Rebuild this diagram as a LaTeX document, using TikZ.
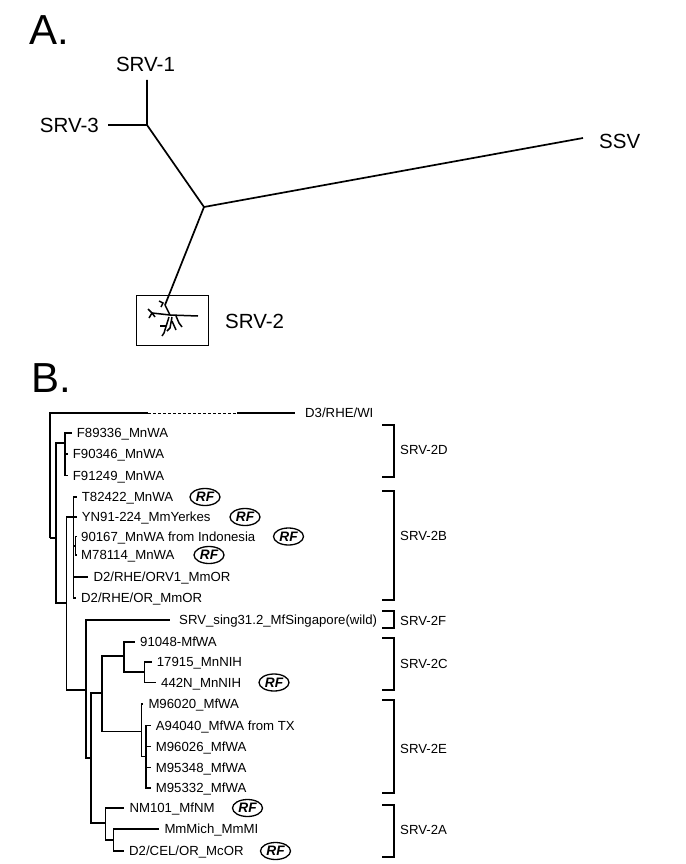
\documentclass[tikz,border=0pt]{standalone}
\usepackage{fontspec}
\setmainfont{Liberation Sans}
\usetikzlibrary{shapes.geometric}
\begin{document}
\begin{tikzpicture}[x=1pt,y=-1pt,
	branch/.style={line width=1.7pt},
	twig/.style={line width=1.5pt},
	leaf/.style={anchor=west,inner xsep=5pt,inner ysep=0pt,text height=9.45pt,text depth=0pt,font=\fontsize{13.2}{15}\selectfont},
	tip/.style={inner sep=0pt,text height=14.7pt,text depth=0pt,font=\fontsize{20.5}{24}\selectfont},
	rf/.style={draw,ellipse,line width=1.3pt,minimum width=30pt,minimum height=17pt,inner sep=0pt,text height=9.8pt,text depth=0pt,font=\fontsize{13.7}{15}\selectfont\bfseries\itshape},
	panel/.style={anchor=base west,inner sep=0pt,font=\fontsize{42}{48}\selectfont}]
\useasboundingbox (0,0) rectangle (685,864);
% A. unrooted tree
\node[panel] (labA) at (29,45) {A.};
\coordinate (t1) at (147,80);
\coordinate (t3) at (108,125);
\coordinate (j13) at (147,125);
\coordinate (cA) at (204,207);
\coordinate (tS) at (583,138);
\coordinate (t2) at (165,305);
\draw[branch] (t1) -- (j13) -- (cA) -- (tS);
\draw[branch] (t3) -- (j13);
\draw[branch] (cA) -- (t2);
\node[tip] (srv1) at (145.5,64.5) {SRV-1};
\node[tip,anchor=east] (srv3) at (99,125) {SRV-3};
\node[tip,anchor=west] (ssv) at (599,141.5) {SSV};
\node[tip,anchor=west] (srv2) at (225,321) {SRV-2};
\node[draw,line width=1.3pt,minimum width=72pt,minimum height=50pt,inner sep=0pt] (box) at (172.6,320.5) {};
\draw[twig] (t2) -- (170,315) -- (198,316);
\draw[twig] (159,301) -- (163,303) -- (161,307);
\draw[twig] (170,315) -- (152,313);
\draw[twig] (148,309) -- (152,313) -- (149,318);
\draw[twig] (152,313) -- (155,317);
\draw[twig] (169,317) -- (164,333) -- (162,336);
\draw[twig] (160,326) -- (166,326);
\draw[twig] (172,317) -- (170,328) -- (167,331);
\draw[twig] (172,321) -- (176,330);
\draw[twig] (176,316) -- (179,323) -- (182,327);
% B. rooted tree
\node[panel] (labB) at (31,392) {B.};
\foreach \n/\x/\y/\t in {d3/300/413/{D3/RHE/WI},f89/71.7/433/F89336\_MnWA,f90/67.7/454/F90346\_MnWA,
	f91/67.7/475.5/F91249\_MnWA,t82/76.7/497/T82422\_MnWA,yn91/76.7/517/YN91-224\_MmYerkes,
	i90/76/536.5/90167\_MnWA from Indonesia,m78/76/555/M78114\_MnWA,orv/88.3/577/{D2/RHE/ORV1\_MmOR},
	orm/76/598/{D2/RHE/OR\_MmOR},sing/174/620/SRV\_sing31.2\_MfSingapore(wild),w91/135/642/91048-MfWA,
	n17/151.7/662/17915\_MnNIH,n44/156/682.5/442N\_MnNIH,m960/143.3/704/M96020\_MfWA,
	a94/150.7/725.5/A94040\_MfWA from TX,m9602/150.7/746.5/M96026\_MfWA,m348/150.7/767.5/M95348\_MfWA,
	m332/150.7/788/M95332\_MfWA,nm/124.3/808/NM101\_MfNM,mich/159.3/829/MmMich\_MmMI,cel/124/851/{D2/CEL/OR\_McOR}}
	\node[leaf] (\n) at (\x,\y) {\t};
\coordinate (root) at (50,538);
\coordinate (inA) at (56,538);
\coordinate (ndD) at (65,443);
\coordinate (inB) at (66.5,603);
\coordinate (ndB) at (73.5,517);
\coordinate (pr) at (75.5,546);
\coordinate (inC) at (86,690);
\coordinate (inD) at (90.7,758);
\coordinate (inE) at (101.7,693);
\coordinate (inF) at (105.5,823);
\coordinate (ndC) at (124,656);
\coordinate (inG) at (144.5,672);
\coordinate (ndE) at (141.5,731.5);
\coordinate (inH) at (146,756.5);
\coordinate (inI) at (113.5,840);
\coordinate (d3a) at (148,413);
\coordinate (d3b) at (237,413);
\draw[branch] (root) |- (d3a);
\draw[line width=1pt,dash pattern=on 3pt off 2pt] (d3a) -- (d3b);
\draw[branch,shorten >=5pt] (d3b) -- (d3);
\draw[branch,shorten >=4pt] (inC) |- (sing);
\foreach \p/\c in {root/inA,inA/ndD,inA/inB,ndD/f89,ndD/f90,ndD/f91,inB/ndB,inB/inC,
	ndB/t82,ndB/yn91,ndB/pr,ndB/orv,ndB/orm,pr/i90,pr/m78,inC/inD,inD/inE,inD/inF,
	inE/ndC,inE/ndE,ndC/w91,ndC/inG,inG/n17,inG/n44,ndE/m960,ndE/inH,
	inH/a94,inH/m9602,inH/m348,inH/m332,inF/nm,inF/inI,inI/mich,inI/cel}
	\draw[branch] (\p) |- (\c);
\foreach \c/\x/\y in {t82/205/497,yn91/245/517,i90/288.5/536.5,m78/209/555,n44/274/682.5,nm/247.5/808,cel/275.5/851}
	\node[rf] (rf\c) at (\x,\y) {RF};
\foreach \g/\lab/\top/\bot/\ly in {gD/SRV-2D/425/477/449.3,gB/SRV-2B/491/600/536,gF/SRV-2F/611/628/620.7,
	gC/SRV-2C/638/690/663.3,gE/SRV-2E/700/793/748.3,gA/SRV-2A/805/857/830}{
	\draw[branch] (382,\top) -- (394,\top) -- (394,\bot) -- (382,\bot);
	\node[leaf,inner xsep=0pt] (\g) at (400,\ly) {\lab};}
\end{tikzpicture}
\end{document}
